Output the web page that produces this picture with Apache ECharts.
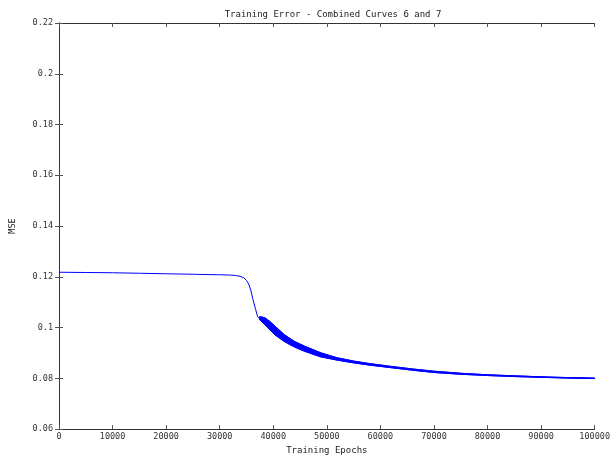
<!DOCTYPE html>
<html>
<head>
<meta charset="utf-8">
<script src="https://cdn.jsdelivr.net/npm/echarts@6/dist/echarts.min.js"></script>
<style>html,body{margin:0;padding:0;background:#fff;}#c{width:613px;height:460px;}</style>
</head>
<body>
<div id="c"></div>
<script>
// Single curve before the oscillation band
var epochsMain = [0, 5000, 10000, 15000, 20000, 25000, 30000, 32000, 33000, 33800, 34500, 35000, 35400, 35800, 36200, 36700, 37100, 37450];
var mseMain    = [0.1218, 0.1217, 0.1216, 0.1214, 0.1212, 0.1210, 0.1208, 0.1207, 0.1205, 0.1202, 0.1196, 0.1186, 0.1172, 0.1148, 0.1112, 0.1072, 0.1042, 0.1035];

// Oscillating band after the drop: upper / lower envelopes
var epochsBand = [37450, 38400, 39300, 40200, 42000, 43900, 45800, 48800, 51900, 55000, 58000, 62000, 66000, 70000, 75000, 80000, 85000, 90000, 95000, 100000];
var mseUpper   = [0.1043, 0.1039, 0.1025, 0.1008, 0.0973, 0.0946, 0.0927, 0.0901, 0.0881, 0.0868, 0.0858, 0.0847, 0.0837, 0.0828, 0.0820, 0.0814, 0.0810, 0.0806, 0.0803, 0.0801];
var mseLower   = [0.1032, 0.1012, 0.0993, 0.0973, 0.0946, 0.0924, 0.0907, 0.0885, 0.0872, 0.0861, 0.0852, 0.0842, 0.0832, 0.0823, 0.0816, 0.0811, 0.0807, 0.0804, 0.0801, 0.0799];

var xTicks = [0, 10000, 20000, 30000, 40000, 50000, 60000, 70000, 80000, 90000, 100000];
var yTicks = [0.06, 0.08, 0.1, 0.12, 0.14, 0.16, 0.18, 0.2, 0.22];

var titleText = 'Training Error - Combined Curves 6 and 7';
var xName = 'Training Epochs';
var yName = 'MSE';

var FONT = 'DejaVu Sans Mono';
var BLUE = '#0000ff';

var mainData = epochsMain.map(function (x, i) { return [x, mseMain[i]]; });
var upperData = epochsBand.map(function (x, i) { return [x, mseUpper[i]]; });
var lowerData = epochsBand.map(function (x, i) { return [x, mseLower[i]]; });

var axisCommon = {
  axisLine: { show: true, lineStyle: { color: '#333', width: 1 } },
  axisTick: { show: true, inside: true, length: 4, lineStyle: { color: '#555' } },
  splitLine: { show: false }
};

var chart = echarts.init(document.getElementById('c'), null, { renderer: 'canvas' });
chart.setOption({
  animation: false,
  backgroundColor: '#fff',
  title: {
    text: titleText, left: 328, top: 5, textAlign: 'center',
    textStyle: { fontFamily: FONT, fontSize: 9, fontWeight: 'normal', color: '#222' }
  },
  grid: { left: 57, right: 14, top: 23, bottom: 30, containLabel: false },
  xAxis: [
    Object.assign({
      type: 'value', min: xTicks[0], max: xTicks[xTicks.length - 1], interval: xTicks[1] - xTicks[0],
      position: 'bottom',
      name: xName, nameLocation: 'middle', nameGap: 15,
      nameTextStyle: { fontFamily: FONT, fontSize: 9, color: '#222' },
      axisLabel: { fontFamily: FONT, fontSize: 8.5, color: '#333', margin: 3, showMaxLabel: true,
        formatter: function (v) { return String(v); } }
    }, axisCommon),
    Object.assign({
      type: 'value', min: xTicks[0], max: xTicks[xTicks.length - 1], interval: xTicks[1] - xTicks[0],
      position: 'top', axisLabel: { show: false }
    }, axisCommon)
  ],
  yAxis: [
    Object.assign({
      type: 'value', min: yTicks[0], max: yTicks[yTicks.length - 1], interval: 0.02,
      position: 'left',
      name: yName, nameLocation: 'middle', nameGap: 42, nameRotate: 90,
      nameTextStyle: { fontFamily: FONT, fontSize: 8.5, color: '#222' },
      axisLabel: { fontFamily: FONT, fontSize: 8.5, color: '#333', margin: 6 }
    }, axisCommon),
    Object.assign({
      type: 'value', min: yTicks[0], max: yTicks[yTicks.length - 1], interval: 0.02,
      position: 'right', axisLabel: { show: false }
    }, axisCommon)
  ],
  series: [
    {
      type: 'line', data: mainData, showSymbol: false, symbol: 'none',
      lineStyle: { color: BLUE, width: 1 }, silent: true
    },
    {
      // filled band between envelopes, drawn through the axis scales
      type: 'custom', silent: true,
      data: [[epochsBand[0], mseUpper[0]]],
      renderItem: function (params, api) {
        var pts = [];
        for (var i = 0; i < upperData.length; i++) pts.push(api.coord(upperData[i]));
        for (var j = lowerData.length - 1; j >= 0; j--) pts.push(api.coord(lowerData[j]));
        return {
          type: 'polygon',
          shape: { points: pts, smooth: 0 },
          style: { fill: BLUE, stroke: BLUE, lineWidth: 1 }
        };
      }
    },
    {
      type: 'line', data: upperData, showSymbol: false, symbol: 'none',
      lineStyle: { color: BLUE, width: 1 }, silent: true
    },
    {
      type: 'line', data: lowerData, showSymbol: false, symbol: 'none',
      lineStyle: { color: BLUE, width: 1 }, silent: true
    }
  ]
});
</script>
</body>
</html>
